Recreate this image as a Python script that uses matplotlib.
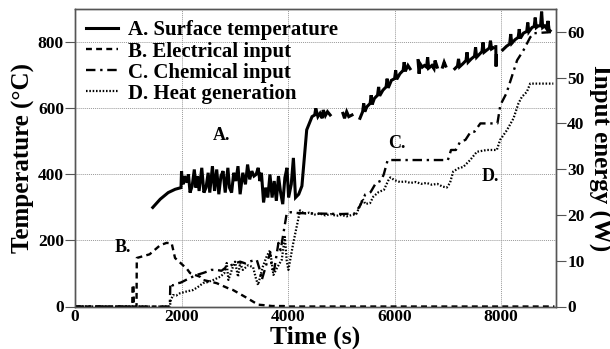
import numpy as np
import matplotlib
matplotlib.use("Agg")
import matplotlib.pyplot as plt

plt.rcParams['font.family'] = ['Liberation Serif', 'DejaVu Serif']
plt.rcParams['font.weight'] = 'bold'

nan = np.nan
# A. Surface temperature (deg C) -- left axis
time_a = [1460, 1600, 1750, 1880, 1990, 2000, 2010, 2030, 2060, 2100, 2130, 2160, 2200, 2240,
          2270, 2300, 2330, 2380, 2420, 2460, 2500, 2530, 2580, 2620, 2660, 2700, 2740, 2780,
          2820, 2870, 2900, 2940, 2980, 3020, 3060, 3100, 3150, 3200, 3240, 3280, 3320, 3360,
          3400, 3440, 3470, 3500, 3540, 3580, 3620, 3660, 3700, 3740, 3780, 3820, 3860, 3900,
          3940, 3980, 4010, 4060, 4100, 4140, 4200, 4260, 4350, 4450, 4500, 4520, 4560, 4600,
          4640, 4660, 4700, 4740, 4790,
          4800,
          5030, 5060, 5100, 5140, 5200,
          5230,
          5350, 5400, 5420, 5440, 5480, 5540, 5560, 5580, 5620, 5680, 5700, 5720, 5780, 5840, 5860, 5880,
          5940, 6000, 6020, 6040, 6100, 6160, 6180, 6200, 6250, 6290,
          6300,
          6440, 6460, 6480, 6520, 6560, 6600, 6620, 6640, 6700, 6740, 6760, 6800,
          6820,
          6900, 6930, 6960,
          6980,
          7130, 7180, 7200, 7220, 7280, 7340, 7360, 7380, 7440, 7500, 7520, 7540, 7600, 7640, 7660, 7680,
          7740, 7780, 7800, 7820, 7850,
          7880, 7900, 7905, 7910,
          7950,
          8030, 8100, 8160, 8180, 8200, 8260, 8320, 8340, 8360, 8420, 8480, 8500, 8520, 8580, 8620, 8640,
          8660, 8700, 8740, 8760, 8780, 8820, 8860, 8880, 8900, 8920]
temp_a = [300, 325, 345, 355, 360, 410, 385, 370, 395, 375, 400, 345, 365, 415,
          360, 395, 350, 420, 345, 360, 405, 345, 425, 350, 415, 340, 395, 410,
          345, 420, 360, 345, 405, 380, 425, 340, 405, 370, 430, 385, 410, 395,
          400, 420, 380, 405, 315, 360, 330, 400, 330, 380, 320, 395, 345, 310,
          390, 420, 330, 370, 450, 330, 340, 365, 535, 575, 580, 600, 575, 585,
          570, 595, 578, 590, 580,
          nan,
          585, 570, 590, 575, 580,
          nan,
          570, 590, 615, 590, 605, 615, 640, 612, 630, 640, 665, 638, 655, 665, 690, 662,
          685, 690, 715, 688, 705, 715, 740, 712, 730, 720,
          nan,
          745, 705, 735, 725, 730, 725, 755, 722, 730, 720, 745, 725,
          nan,
          725, 740, 728,
          nan,
          720, 728, 750, 726, 735, 745, 770, 740, 750, 758, 785, 755, 765, 772, 800, 770,
          778, 783, 805, 780, 783,
          nan, 787, 727, 760,
          nan,
          777, 788, 795, 825, 797, 808, 815, 840, 812, 828, 833, 860, 832, 845, 848, 875,
          845, 850, 850, 893, 845, 850, 840, 865, 838, 835]

# B. Electrical input (W) -- right axis
time_b = [0, 1075, 1080, 1100, 1105, 1155, 1160, 1250, 1400, 1600, 1720, 1815, 1878, 1972,
          2103, 2160, 2347, 2404, 2660, 2911, 2967, 3224, 3437, 3537, 3700, 3913, 4000, 9000]
power_b = [0, 0, 4.7, 4.7, 0, 0, 10.6, 10.9, 11.4, 13.4, 13.9, 13.8, 10.6, 9.6,
           8.2, 7.3, 6.5, 5.8, 5.1, 3.8, 3.6, 1.9, 0.4, 0.3, 0.1, 0.1, 0, 0]

# C. Chemical input (W) -- right axis
time_c = [0, 1780, 1790, 1830, 1880, 1935, 1980, 2050, 2150, 2285, 2400, 2473, 2560, 2660, 2750,
          2850, 2911, 3000, 3099, 3200, 3300, 3412, 3470, 3506, 3600, 3662, 3700, 3740, 3819, 3860,
          3913, 3975, 4050, 4200, 4600, 5000, 5250, 5350, 5450, 5550, 5650, 5750, 5800, 5870,
          7000, 7060, 7150, 7230, 7330, 7430, 7500, 7610, 7930, 7985, 8100, 8200, 8300, 8420,
          8545, 8610, 9000]
power_c = [0, 0, 5.1, 4.6, 4.8, 5.1, 5.2, 5.6, 6.2, 6.9, 7.3, 7.6, 8.0, 8.0, 7.8,
           8.7, 8.9, 9.4, 9.8, 9.4, 9.9, 10.2, 8.0, 5.8, 9.5, 11.6, 8.2, 8.0, 13.9, 12.3,
           16.0, 20.4, 20.6, 20.4, 20.3, 20.2, 20.3, 22.0, 24.5, 25.0, 27.0, 27.5, 29.0, 32.0,
           32.0, 34.2, 34.2, 36.0, 36.4, 38.2, 38.2, 40.0, 40.0, 44.0, 46.6, 50.2, 53.8, 56.0,
           58.8, 59.7, 60.0]

# D. Heat generation (W) -- right axis
time_d = [0, 1780, 1800, 1840, 1900, 1972, 2100, 2216, 2300, 2404, 2479, 2598, 2723, 2800, 2848,
          2880, 2950, 3005, 3060, 3099, 3150, 3250, 3343, 3400, 3437, 3520, 3600, 3662, 3725,
          3800, 3881, 3940, 3975, 4006, 4100, 4225, 4300, 4400, 4500, 4600, 4700, 4800, 4900,
          5000, 5100, 5200, 5280, 5350, 5400, 5450, 5540, 5600, 5700, 5800, 5880, 5920, 6000,
          6100, 6200, 6300, 6400, 6500, 6600, 6700, 6800, 6900, 6980, 7040, 7100, 7200, 7290,
          7418, 7544, 7731, 7919, 7981, 8107, 8232, 8326, 8389, 8483, 8545, 8980]
power_d = [0, 0, 1.4, 2.5, 2.4, 2.9, 3.3, 3.6, 4.2, 5.1, 5.3, 5.8, 6.5, 7.2, 9.5,
           5.8, 8.2, 9.8, 6.5, 9.5, 8.0, 9.0, 8.6, 6.0, 4.7, 8.5, 11.0, 12.3, 6.9,
           8.6, 10.2, 15.2, 10.0, 8.0, 14.0, 21.0, 20.3, 20.5, 20.1, 20.3, 19.9, 20.2, 19.8,
           20.0, 19.7, 20.0, 20.2, 22.0, 23.5, 22.4, 22.6, 24.0, 25.0, 25.5, 27.5, 28.2, 27.6,
           27.2, 27.3, 27.0, 27.2, 26.8, 27.0, 26.6, 26.8, 26.2, 26.0, 27.0, 29.5, 30.2, 30.5,
           32.0, 33.8, 34.2, 34.2, 36.4, 38.5, 41.1, 44.4, 45.8, 46.9, 48.7, 48.7]

labels = ["A. Surface temperature", "B. Electrical input", "C. Chemical input", "D. Heat generation"]
x_ticks = [0, 2000, 4000, 6000, 8000]
t_ticks = [0, 200, 400, 600, 800]
w_ticks = [0, 10, 20, 30, 40, 50, 60]

fig = plt.figure(figsize=(6.10, 3.49), dpi=100)
ax = fig.add_axes([75/610, 1 - 306.5/349, (556-75)/610, (306.5-9)/349])
ax2 = ax.twinx()

ax.set_xlim(0, 9030)
ax.set_ylim(0, 901)
ax2.set_ylim(0, 65)

ax.grid(True, color='#999999', linestyle=(0, (1, 1)), linewidth=0.7)
ax.set_axisbelow(True)

lA, = ax.plot(time_a, temp_a, color='black', lw=2.2, solid_joinstyle='miter')
lB, = ax2.plot(time_b, power_b, color='black', lw=1.7, linestyle=(0, (2.5, 1.8)))
lC, = ax2.plot(time_c, power_c, color='black', lw=1.7, linestyle=(0, (4, 2, 1, 2)))
lD, = ax2.plot(time_d, power_d, color='black', lw=1.6, linestyle=(0, (0.7, 0.8)))

ax.set_xticks(x_ticks)
ax.set_yticks(t_ticks)
ax2.set_yticks(w_ticks)

for a in (ax, ax2):
    for s in a.spines.values():
        s.set_color('#555555')
        s.set_linewidth(1.0)
ax.tick_params(axis='x', length=0, labelsize=12.5, pad=2)
ax.tick_params(axis='y', length=7, width=0.8, color='#555555', labelsize=12.5, pad=1)
ax2.tick_params(axis='y', length=7, width=0.8, color='#555555', labelsize=12.5, pad=1)
for lab in ax.get_xticklabels() + ax.get_yticklabels() + ax2.get_yticklabels():
    lab.set_fontweight('bold')

ax.set_xlabel("Time (s)", fontsize=18.5, fontweight='bold', labelpad=0)
ax.set_ylabel("Temperature (°C)", fontsize=18, fontweight='bold', labelpad=2)
ax2.set_ylabel("Input energy (W)", fontsize=18, fontweight='bold', rotation=270, labelpad=19)

ax.text(2742, 517, "A.", fontsize=13, fontweight='bold', ha='center', va='center')
ax.text(901, 180, "B.", fontsize=13, fontweight='bold', ha='center', va='center')
ax.text(6047, 495, "C.", fontsize=13, fontweight='bold', ha='center', va='center')
ax.text(7794, 395, "D.", fontsize=13, fontweight='bold', ha='center', va='center')

leg = ax.legend([lA, lB, lC, lD], labels, loc='upper left', bbox_to_anchor=(0.0, 1.0),
                frameon=False, handlelength=1.5, handletextpad=0.5,
                labelspacing=0.05, borderaxespad=0.15, prop={'weight': 'bold', 'size': 15})

fig.savefig("out.png", dpi=100)
